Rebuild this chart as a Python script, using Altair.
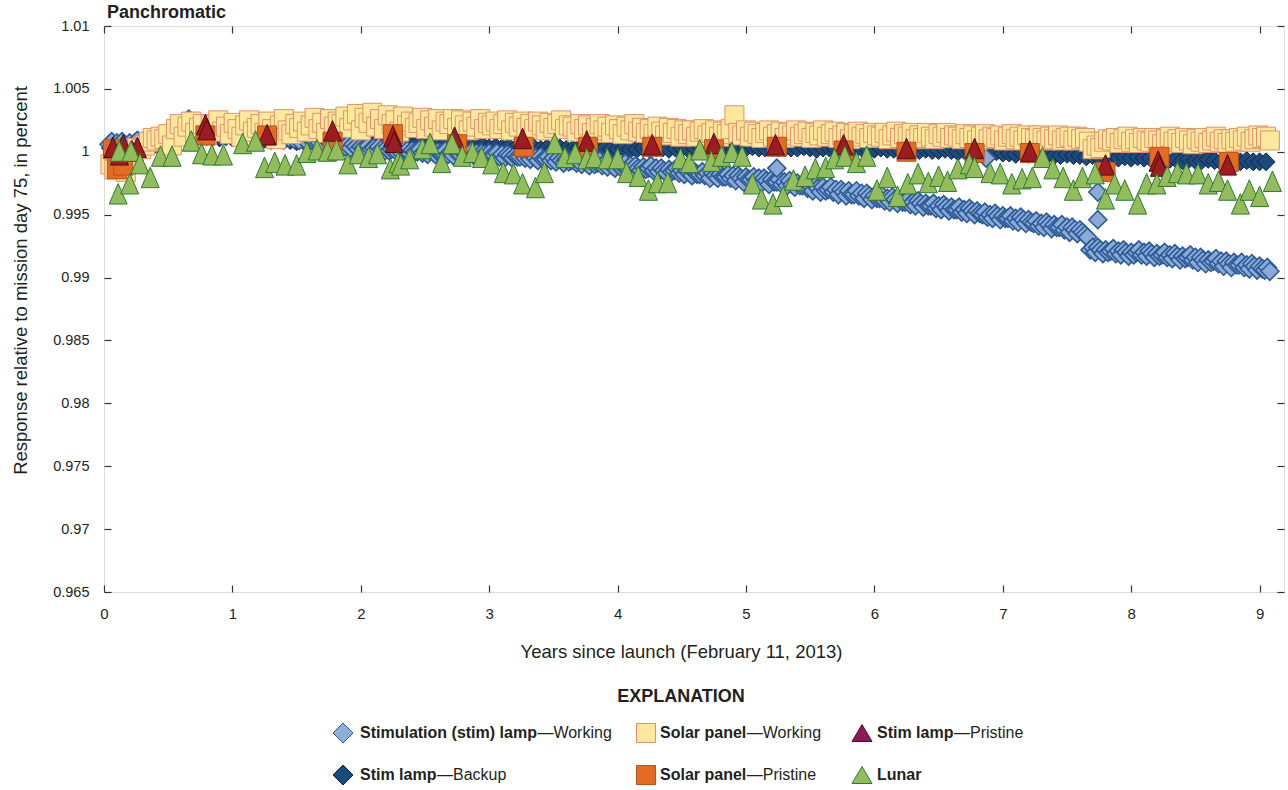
import altair as alt
import pandas as pd
import numpy as np

FONT = "Liberation Sans, Arial, sans-serif"
INK = "#231F20"

# ---------------- data ----------------
# Stimulation lamp, working: regular cadence starting at 0.04 yr, every 0.02 yr
stim_working_start, stim_working_step = 0.04, 0.02
stim_working = [
    1.0006, 1.0008, 1.0005, 1.0007, 1.0004, 1.0008, 1.0006, 1.0004, 1.0007, 1.0005,
    1.0007, 1.0009, 1.0006, 1.0008, 1.0006, 1.0010, 1.0008, 1.0006, 1.0009, 1.0007,
    1.0010, 1.0012, 1.0011, 1.0013, 1.0012, 1.0016, 1.0017, 1.0016, 1.0019, 1.0018,
    1.0024, 1.0026, 1.0023, 1.0024, 1.0021, 1.0023, 1.0020, 1.0018, 1.0021, 1.0019,
    1.0019, 1.0021, 1.0017, 1.0018, 1.0015, 1.0018, 1.0017, 1.0015, 1.0017, 1.0015,
    1.0016, 1.0017, 1.0014, 1.0016, 1.0013, 1.0016, 1.0014, 1.0012, 1.0015, 1.0013,
    1.0014, 1.0015, 1.0012, 1.0014, 1.0011, 1.0014, 1.0012, 1.0010, 1.0013, 1.0011,
    1.0011, 1.0013, 1.0010, 1.0011, 1.0009, 1.0012, 1.0010, 1.0008, 1.0011, 1.0009,
    1.0009, 1.0011, 1.0007, 1.0009, 1.0006, 1.0009, 1.0007, 1.0005, 1.0008, 1.0006,
    1.0006, 1.0008, 1.0004, 1.0006, 1.0003, 1.0006, 1.0004, 1.0002, 1.0004, 1.0003,
    1.0003, 1.0005, 1.0002, 1.0003, 1.0001, 1.0004, 1.0002, 1.0000, 1.0003, 1.0001,
    1.0002, 1.0003, 1.0000, 1.0002, 0.9999, 1.0002, 1.0001, 0.9999, 1.0001, 1.0000,
    1.0000, 1.0002, 0.9999, 1.0001, 0.9998, 1.0001, 1.0000, 0.9998, 1.0000, 0.9999,
    0.9999, 1.0001, 0.9998, 1.0000, 0.9997, 1.0000, 0.9999, 0.9997, 0.9999, 0.9998,
    0.9998, 1.0000, 0.9997, 0.9999, 0.9996, 0.9999, 0.9998, 0.9996, 0.9999, 0.9997,
    0.9997, 0.9999, 0.9996, 0.9998, 0.9995, 0.9998, 0.9997, 0.9995, 0.9997, 0.9996,
    0.9996, 0.9998, 0.9995, 0.9997, 0.9994, 0.9997, 0.9995, 0.9993, 0.9996, 0.9994,
    0.9994, 0.9996, 0.9993, 0.9995, 0.9992, 0.9995, 0.9993, 0.9991, 0.9994, 0.9992,
    0.9993, 0.9995, 0.9991, 0.9993, 0.9990, 0.9993, 0.9991, 0.9989, 0.9992, 0.9990,
    0.9991, 0.9993, 0.9989, 0.9991, 0.9988, 0.9991, 0.9989, 0.9987, 0.9990, 0.9988,
    0.9989, 0.9991, 0.9987, 0.9989, 0.9986, 0.9989, 0.9987, 0.9985, 0.9988, 0.9986,
    0.9987, 0.9989, 0.9985, 0.9987, 0.9984, 0.9987, 0.9985, 0.9983, 0.9986, 0.9984,
    0.9985, 0.9987, 0.9983, 0.9985, 0.9982, 0.9985, 0.9983, 0.9981, 0.9984, 0.9982,
    0.9982, 0.9984, 0.9981, 0.9983, 0.9979, 0.9983, 0.9981, 0.9979, 0.9982, 0.9980,
    0.9980, 0.9982, 0.9979, 0.9981, 0.9977, 0.9981, 0.9979, 0.9976, 0.9980, 0.9978,
    0.9978, 0.9980, 0.9977, 0.9979, 0.9975, 0.9979, 0.9977, 0.9974, 0.9978, 0.9976,
    0.9976, 0.9978, 0.9974, 0.9976, 0.9973, 0.9977, 0.9974, 0.9972, 0.9975, 0.9973,
    0.9973, 0.9975, 0.9971, 0.9973, 0.9969, 0.9973, 0.9971, 0.9968, 0.9972, 0.9969,
    0.9970, 0.9972, 0.9968, 0.9970, 0.9966, 0.9970, 0.9968, 0.9965, 0.9969, 0.9966,
    0.9966, 0.9969, 0.9965, 0.9967, 0.9963, 0.9967, 0.9965, 0.9962, 0.9965, 0.9963,
    0.9963, 0.9965, 0.9961, 0.9963, 0.9960, 0.9964, 0.9962, 0.9959, 0.9962, 0.9960,
    0.9960, 0.9962, 0.9958, 0.9960, 0.9957, 0.9961, 0.9959, 0.9956, 0.9959, 0.9957,
    0.9957, 0.9959, 0.9955, 0.9957, 0.9954, 0.9958, 0.9956, 0.9953, 0.9956, 0.9954,
    0.9954, 0.9956, 0.9952, 0.9954, 0.9951, 0.9955, 0.9953, 0.9950, 0.9953, 0.9951,
    0.9950, 0.9952, 0.9948, 0.9950, 0.9947, 0.9951, 0.9949, 0.9946, 0.9949, 0.9947,
    0.9947, 0.9949, 0.9945, 0.9947, 0.9944, 0.9948, 0.9946, 0.9943, 0.9946, 0.9944,
    0.9943, 0.9945, 0.9941, 0.9943, 0.9940, 0.9944, 0.9942, 0.9939, 0.9942, 0.9940,
    0.9940, 0.9942, 0.9938, 0.9940, 0.9936, 0.9940, 0.9938, 0.9935, 0.9938, 0.9936,
    0.9934, 0.9932, 0.9922, 0.9924, 0.9920, 0.9924, 0.9922, 0.9919, 0.9922, 0.9920,
    0.9921, 0.9923, 0.9919, 0.9921, 0.9918, 0.9922, 0.9920, 0.9917, 0.9920, 0.9918,
    0.9920, 0.9922, 0.9918, 0.9920, 0.9917, 0.9921, 0.9919, 0.9916, 0.9919, 0.9917,
    0.9918, 0.9920, 0.9916, 0.9918, 0.9915, 0.9919, 0.9917, 0.9914, 0.9917, 0.9915,
    0.9916, 0.9918, 0.9914, 0.9916, 0.9912, 0.9916, 0.9914, 0.9911, 0.9914, 0.9912,
    0.9913, 0.9915, 0.9911, 0.9913, 0.9909, 0.9913, 0.9911, 0.9908, 0.9912, 0.9910,
    0.9910, 0.9912, 0.9908, 0.9910, 0.9907, 0.9911, 0.9909, 0.9906, 0.9909, 0.9907,
    0.9906, 0.9908, 0.9905,
]
stim_working_extra_years = [5.24, 6.87, 7.74, 7.74]
stim_working_extra = [0.9987, 0.9995, 0.9946, 0.9968]

# Stimulation lamp, backup: every 0.05 yr starting at 0.05 yr
stim_backup_start, stim_backup_step = 0.05, 0.05
stim_backup = [
    1.0003, 1.0004, 1.0002, 1.0003, 1.0004, 1.0003,
    1.0005, 1.0006, 1.0008, 1.0009, 1.0010, 1.0011, 1.0012, 1.0012, 1.0013, 1.0012,
    1.0012, 1.0011, 1.0012, 1.0011, 1.0011, 1.0010, 1.0011, 1.0010, 1.0010, 1.0009,
    1.0010, 1.0009, 1.0009, 1.0008, 1.0009, 1.0008, 1.0008, 1.0007, 1.0008, 1.0007,
    1.0008, 1.0007, 1.0007, 1.0008, 1.0007, 1.0006, 1.0007, 1.0007, 1.0006, 1.0007,
    1.0006, 1.0006, 1.0007, 1.0005, 1.0006, 1.0005, 1.0005, 1.0006, 1.0004, 1.0005,
    1.0004, 1.0004, 1.0005, 1.0003, 1.0004, 1.0003, 1.0004, 1.0002, 1.0003, 1.0003,
    1.0003, 1.0002, 1.0003, 1.0002, 1.0003, 1.0002, 1.0002, 1.0003, 1.0002, 1.0002,
    1.0002, 1.0003, 1.0002, 1.0002, 1.0003, 1.0002, 1.0002, 1.0003, 1.0002, 1.0003,
    1.0003, 1.0002, 1.0003, 1.0003, 1.0002, 1.0003, 1.0004, 1.0003, 1.0003, 1.0004,
    1.0003, 1.0004, 1.0003, 1.0003, 1.0004, 1.0003, 1.0003, 1.0004, 1.0003, 1.0003,
    1.0003, 1.0003, 1.0004, 1.0003, 1.0002, 1.0003, 1.0003, 1.0002, 1.0003, 1.0003,
    1.0002, 1.0003, 1.0002, 1.0002, 1.0003, 1.0002, 1.0002, 1.0001, 1.0002, 1.0002,
    1.0001, 1.0002, 1.0001, 1.0001, 1.0002, 1.0001, 1.0000, 1.0001, 1.0000, 1.0001,
    1.0000, 0.9999, 1.0000, 0.9999, 0.9999, 0.9998, 0.9999, 0.9998, 0.9998, 0.9997,
    0.9998, 0.9997, 0.9997, 0.9998, 0.9997, 0.9997, 0.9996, 0.9997, 0.9996, 0.9996,
    0.9996, 0.9995, 0.9996, 0.9995, 0.9996, 0.9995, 0.9995, 0.9994, 0.9995, 0.9994,
    0.9994, 0.9993, 0.9994, 0.9993, 0.9993, 0.9994, 0.9993, 0.9992, 0.9993, 0.9993,
    0.9992, 0.9993, 0.9992, 0.9992, 0.9992,
]

# Solar panel, working: every 0.03 yr starting at 0.05 yr
solar_working_start, solar_working_step = 0.05, 0.03
solar_working = [
    0.9990, 0.9986, 0.9992, 0.9988, 0.9984, 0.9994, 1.0000, 1.0003, 1.0002, 1.0005,
    1.0008, 1.0011, 1.0009, 1.0012, 1.0010, 1.0014, 1.0005, 1.0018, 1.0022, 1.0012,
    1.0020, 1.0024, 1.0015, 1.0019, 1.0022, 1.0013, 1.0021, 1.0017, 1.0025, 1.0016,
    1.0020, 1.0014, 1.0023, 1.0018, 1.0012, 1.0021, 1.0025, 1.0016, 1.0019, 1.0022,
    1.0015, 1.0024, 1.0018, 1.0010, 1.0021, 1.0026, 1.0017, 1.0014, 1.0022, 1.0019,
    1.0024, 1.0016, 1.0021, 1.0027, 1.0018, 1.0023, 1.0015, 1.0026, 1.0020, 1.0024,
    1.0022, 1.0028, 1.0019, 1.0025, 1.0030, 1.0017, 1.0027, 1.0023, 1.0031, 1.0020,
    1.0026, 1.0018, 1.0029, 1.0022, 1.0025, 1.0016, 1.0028, 1.0021, 1.0024, 1.0019,
    1.0023, 1.0027, 1.0018, 1.0025, 1.0020, 1.0026, 1.0017, 1.0024, 1.0022, 1.0026,
    1.0019, 1.0025, 1.0021, 1.0017, 1.0024, 1.0020, 1.0026, 1.0018, 1.0023, 1.0021,
    1.0024, 1.0018, 1.0022, 1.0025, 1.0017, 1.0023, 1.0020, 1.0024, 1.0019, 1.0022,
    1.0018, 1.0024, 1.0021, 1.0017, 1.0023, 1.0019, 1.0022, 1.0025, 1.0018, 1.0021,
    1.0020, 1.0016, 1.0022, 1.0018, 1.0021, 1.0015, 1.0019, 1.0022, 1.0017, 1.0020,
    1.0015, 1.0021, 1.0018, 1.0014, 1.0020, 1.0017, 1.0022, 1.0016, 1.0019, 1.0015,
    1.0018, 1.0014, 1.0020, 1.0016, 1.0013, 1.0019, 1.0015, 1.0018, 1.0012, 1.0017,
    1.0014, 1.0017, 1.0012, 1.0016, 1.0018, 1.0013, 1.0015, 1.0017, 1.0012, 1.0016,
    1.0014, 1.0018, 1.0029, 1.0015, 1.0013, 1.0017, 1.0012, 1.0016, 1.0014, 1.0011,
    1.0015, 1.0017, 1.0012, 1.0014, 1.0016, 1.0011, 1.0015, 1.0013, 1.0017, 1.0012,
    1.0014, 1.0016, 1.0011, 1.0015, 1.0013, 1.0017, 1.0012, 1.0014, 1.0016, 1.0011,
    1.0013, 1.0015, 1.0010, 1.0014, 1.0016, 1.0012, 1.0014, 1.0011, 1.0015, 1.0013,
    1.0012, 1.0015, 1.0010, 1.0013, 1.0016, 1.0011, 1.0014, 1.0012, 1.0015, 1.0010,
    1.0013, 1.0011, 1.0015, 1.0012, 1.0010, 1.0014, 1.0012, 1.0015, 1.0011, 1.0013,
    1.0012, 1.0010, 1.0014, 1.0011, 1.0013, 1.0009, 1.0012, 1.0014, 1.0010, 1.0012,
    1.0011, 1.0013, 1.0009, 1.0012, 1.0014, 1.0010, 1.0012, 1.0009, 1.0013, 1.0011,
    1.0010, 1.0013, 1.0011, 1.0009, 1.0012, 1.0010, 1.0013, 1.0009, 1.0011, 1.0012,
    1.0009, 1.0012, 1.0010, 1.0011, 1.0008, 1.0002, 1.0005, 1.0003, 1.0008, 1.0010,
    1.0009, 1.0011, 1.0007, 1.0010, 1.0012, 1.0008, 1.0010, 1.0007, 1.0011, 1.0009,
    1.0008, 1.0011, 1.0009, 1.0006, 1.0010, 1.0012, 1.0008, 1.0010, 1.0007, 1.0011,
    1.0009, 1.0006, 1.0010, 1.0008, 1.0011, 1.0007, 1.0009, 1.0012, 1.0008, 1.0010,
    1.0007, 1.0010, 1.0008, 1.0011, 1.0009, 1.0012, 1.0008, 1.0010, 1.0013, 1.0011,
    1.0012, 1.0009,
]

solar_pristine_years = [0.07, 0.10, 0.15, 0.79, 1.27, 1.78, 2.25, 2.75, 3.27, 3.77,
                        4.27, 4.75, 5.24, 5.76, 6.25, 6.78, 7.21, 7.80, 8.22, 8.76]
solar_pristine = [1.0002, 0.9986, 0.9989, 1.0013, 1.0013, 1.0008, 1.0014, 1.0006, 1.0004, 1.0004,
                  1.0004, 1.0002, 1.0004, 1.0001, 1.0000, 0.9999, 0.9999, 0.9984, 0.9996, 0.9992]

stim_pristine_years = [0.07, 0.12, 0.15, 0.22, 0.26, 0.79, 0.80, 1.27, 1.78, 2.25, 2.26, 2.73,
                       3.26, 3.76, 4.27, 4.75, 5.23, 5.76, 6.25, 6.78, 7.21, 7.80, 8.21, 8.22, 8.75]
stim_pristine = [1.0003, 0.9997, 1.0005, 1.0000, 1.0003, 1.0021, 1.0017, 1.0013, 1.0016, 1.0012,
                 1.0007, 1.0011, 1.0010, 1.0008, 1.0005, 1.0006, 1.0005, 1.0005, 1.0002, 1.0002,
                 1.0000, 0.9989, 0.9992, 0.9988, 0.9989]

lunar_years = [
    0.11, 0.12, 0.20, 0.21, 0.28, 0.36, 0.44, 0.53, 0.68, 0.76, 0.84, 0.93, 1.08, 1.18, 1.25,
    1.33, 1.41, 1.50, 1.58, 1.66, 1.74, 1.81, 1.90, 1.98, 2.06, 2.13, 2.23, 2.29, 2.31, 2.38,
    2.48, 2.54, 2.63, 2.71, 2.79, 2.87, 2.94, 3.02, 3.11, 3.19, 3.26, 3.36, 3.43, 3.51, 3.59,
    3.67, 3.76, 3.82, 3.92, 4.00, 4.07, 4.16, 4.24, 4.31, 4.39, 4.49, 4.56, 4.64, 4.73, 4.81,
    4.89, 4.97, 5.05, 5.12, 5.21, 5.29, 5.37, 5.46, 5.54, 5.62, 5.69, 5.77, 5.86, 5.94, 6.02,
    6.10, 6.18, 6.26, 6.34, 6.42, 6.50, 6.57, 6.65, 6.74, 6.78, 6.90, 6.98, 7.07, 7.15, 7.23,
    7.31, 7.39, 7.47, 7.55, 7.62, 7.72, 7.80, 7.87, 7.95, 8.05, 8.12, 8.20, 8.28, 8.36, 8.43,
    8.52, 8.60, 8.68, 8.75, 8.85, 8.92, 9.00, 9.10,
]
lunar = [
    0.9966, 1.0000, 0.9974, 1.0000, 0.9990, 0.9979, 0.9996, 0.9996, 1.0008, 0.9998, 0.9997, 0.9997, 1.0006, 1.0008, 0.9987,
    0.9991, 0.9989, 0.9989, 0.9999, 1.0001, 1.0000, 1.0001, 0.9990, 0.9998, 0.9995, 0.9998, 0.9986, 0.9991, 0.9989, 0.9994,
    1.0002, 1.0006, 0.9991, 1.0006, 0.9996, 0.9999, 0.9995, 0.9990, 0.9983, 0.9982, 0.9974, 0.9971, 0.9983, 1.0006, 0.9995,
    0.9998, 0.9994, 0.9995, 0.9994, 0.9994, 0.9983, 0.9980, 0.9969, 0.9975, 0.9975, 0.9994, 0.9991, 1.0001, 0.9992, 0.9996,
    0.9999, 0.9996, 0.9974, 0.9962, 0.9958, 0.9964, 0.9977, 0.9980, 0.9986, 0.9987, 0.9994, 0.9996, 0.9991, 0.9996, 0.9969,
    0.9979, 0.9964, 0.9974, 0.9982, 0.9975, 0.9980, 0.9976, 0.9986, 0.9990, 0.9987, 0.9983, 0.9982, 0.9974, 0.9978, 0.9979,
    0.9995, 0.9986, 0.9979, 0.9969, 0.9979, 0.9982, 0.9962, 0.9974, 0.9969, 0.9958, 0.9974, 0.9974, 0.9980, 0.9983, 0.9982,
    0.9982, 0.9974, 0.9976, 0.9969, 0.9958, 0.9969, 0.9964, 0.9976,
]

x_tick_values = [0, 1, 2, 3, 4, 5, 6, 7, 8, 9]
y_tick_values = [0.965, 0.97, 0.975, 0.98, 0.985, 0.99, 0.995, 1.0, 1.005, 1.01]

# ---------------- tables ----------------
df_working = pd.DataFrame({
    "year": list(stim_working_start + stim_working_step * np.arange(len(stim_working))) + stim_working_extra_years,
    "value": stim_working + stim_working_extra})
df_backup = pd.DataFrame({"year": stim_backup_start + stim_backup_step * np.arange(len(stim_backup)),
                          "value": stim_backup})
df_solar_w = pd.DataFrame({"year": solar_working_start + solar_working_step * np.arange(len(solar_working)),
                           "value": solar_working})
df_solar_p = pd.DataFrame({"year": solar_pristine_years, "value": solar_pristine})
df_stim_p = pd.DataFrame({"year": stim_pristine_years, "value": stim_pristine})
df_lunar = pd.DataFrame({"year": lunar_years, "value": lunar})

W, H = 1180, 566
xscale = alt.Scale(domain=[0, 9.19], nice=False, zero=False)
yscale = alt.Scale(domain=[0.965, 1.01], nice=False, zero=False)

TRI = "M0,-1.1L0.9,0.95L-0.9,0.95Z"
TRI_LEG = "M0,-0.85L1,0.85L-1,0.85Z"

common_axis = dict(grid=False, domain=False, offset=-7, tickSize=7, tickColor="#333333",
                   tickWidth=1.2, labelFont=FONT, labelColor=INK, titleFont=FONT,
                   titleColor=INK, titleFontWeight="normal", labelFlush=False, labelOverlap=False)

ax_bottom = alt.Axis(orient="bottom", values=x_tick_values, format="d", labelPadding=14,
                     labelFontSize=15, title="Years since launch (February 11, 2013)",
                     titleFontSize=18.5, titleX=577, titleY=66, titleBaseline="middle",
                     titleAlign="center", **common_axis)
ax_left = alt.Axis(orient="left", values=y_tick_values, format="~g", labelPadding=15,
                   labelFontSize=14.5, title="Response relative to mission day 75, in percent",
                   titleFontSize=18.5, titleX=-91, titleY=254, titleAngle=270,
                   titleBaseline="middle", titleAlign="center", **common_axis)
ax_top = alt.Axis(orient="top", values=x_tick_values, labels=False, title=None, **common_axis)
ax_right = alt.Axis(orient="right", values=y_tick_values, labels=False, title=None, **common_axis)


def layer_points(df, shape, size, fill, stroke, sw=1.0, xaxis=None, yaxis=None):
    return alt.Chart(df).mark_point(
        shape=shape, size=size, fill=fill, stroke=stroke, strokeWidth=sw,
        opacity=1, fillOpacity=1, strokeOpacity=1, clip=False
    ).encode(
        x=alt.X("year:Q", scale=xscale, axis=xaxis),
        y=alt.Y("value:Q", scale=yscale, axis=yaxis),
    )


backup_layer = layer_points(df_backup, "diamond", 324, "#1B4A7F", "#0C2540", 1.0, ax_bottom, ax_left)
working_layer = layer_points(df_working, "diamond", 324, "#8AABD8", "#2E5A96", 1.6, ax_top, ax_right)
solar_w_layer = layer_points(df_solar_w, "square", 361, "#FDE89C", "#E0906C", 1.0)
solar_p_layer = layer_points(df_solar_p, "square", 361, "#E46C22", "#B4521C", 1.0)
stim_p_layer = layer_points(df_stim_p, TRI, 400, "#9C1C22", "#4E0D12", 1.0)
lunar_layer = layer_points(df_lunar, TRI, 400, "#93BC5B", "#2C7A33", 1.0)

main = alt.layer(backup_layer, working_layer, solar_w_layer, solar_p_layer,
                 stim_p_layer, lunar_layer).resolve_axis(x="independent", y="independent")

# ---------------- explanation (legend) and panel label ----------------
# Liberation Sans Bold advance widths (per 1000 em), used to butt regular text after bold text
BOLD_W = {"S": 667, "t": 333, "i": 278, "m": 889, "u": 611, "l": 278, "a": 556, "o": 611,
          "n": 611, " ": 278, "(": 333, "s": 556, ")": 333, "p": 611, "r": 389, "e": 556, "L": 611}
LEG_SIZE = 16


def bold_width(s):
    return sum(BOLD_W[c] for c in s) * LEG_SIZE / 1000.0


leg_symbols = pd.DataFrame({
    "lx": [239, 239, 542, 542, 758, 758],
    "ly": [707, 749, 707, 749, 707, 749],
    "shape": ["diamond", "diamond", "square", "square", TRI_LEG, TRI_LEG],
    "fill": ["#8EAEDA", "#1B4A7F", "#FDE89C", "#E46C22", "#8E1A52", "#93BC5B"],
    "stroke": ["#2F5D9B", "#0C2540", "#E0906C", "#B4521C", "#4E0D2A", "#2C7A33"],
    "size": [400, 400, 361, 361, 400, 400],
})
bold_items = [(256, 707, "Stimulation (stim) lamp", "\u2014Working"),
              (256, 749, "Stim lamp", "\u2014Backup"),
              (556, 707, "Solar panel", "\u2014Working"),
              (556, 749, "Solar panel", "\u2014Pristine"),
              (773, 707, "Stim lamp", "\u2014Pristine"),
              (773, 749, "Lunar", "")]
leg_bold = pd.DataFrame({"lx": [b[0] for b in bold_items], "ly": [b[1] for b in bold_items],
                         "text": [b[2] for b in bold_items]})
leg_reg = pd.DataFrame({"lx": [b[0] + bold_width(b[2]) + 0.5 for b in bold_items if b[3]],
                        "ly": [b[1] for b in bold_items if b[3]],
                        "text": [b[3] for b in bold_items if b[3]]})
heads = pd.DataFrame({"lx": [577, 3], "ly": [671, -13], "text": ["EXPLANATION", "Panchromatic"]})

px = lambda f: alt.X(f"{f}:Q", scale=None, axis=None)
py = lambda f: alt.Y(f"{f}:Q", scale=None, axis=None)

sym_layer = alt.Chart(leg_symbols).mark_point(opacity=1, fillOpacity=1, strokeWidth=1).encode(
    x=px("lx"), y=py("ly"),
    shape=alt.Shape("shape:N", scale=None),
    fill=alt.Fill("fill:N", scale=None),
    stroke=alt.Stroke("stroke:N", scale=None),
    size=alt.Size("size:Q", scale=None),
)
bold_layer = alt.Chart(leg_bold).mark_text(align="left", baseline="middle", font=FONT,
                                           fontSize=LEG_SIZE, fontWeight="bold", color=INK).encode(
    x=px("lx"), y=py("ly"), text="text:N")
reg_layer = alt.Chart(leg_reg).mark_text(align="left", baseline="middle", font=FONT,
                                         fontSize=LEG_SIZE, fontWeight="normal", color=INK).encode(
    x=px("lx"), y=py("ly"), text="text:N")
expl_layer = alt.Chart(heads.iloc[[0]]).mark_text(align="center", baseline="middle", font=FONT,
                                                  fontSize=18, fontWeight="bold", color=INK).encode(
    x=px("lx"), y=py("ly"), text="text:N")
panel_layer = alt.Chart(heads.iloc[[1]]).mark_text(align="left", baseline="middle", font=FONT,
                                                   fontSize=18, fontWeight="bold", color=INK).encode(
    x=px("lx"), y=py("ly"), text="text:N")

chart = alt.layer(main, sym_layer, bold_layer, reg_layer, expl_layer, panel_layer).resolve_scale(
    x="independent", y="independent"
).properties(
    width=W, height=H,
    autosize=alt.AutoSizeParams(type="none"),
    padding={"left": 104, "top": 26, "right": 4, "bottom": 198},
).configure_view(stroke="#3A3A3A", strokeWidth=1.4).configure(background="white")

chart.save("out.html", embed_options={"renderer": "svg", "actions": False})
